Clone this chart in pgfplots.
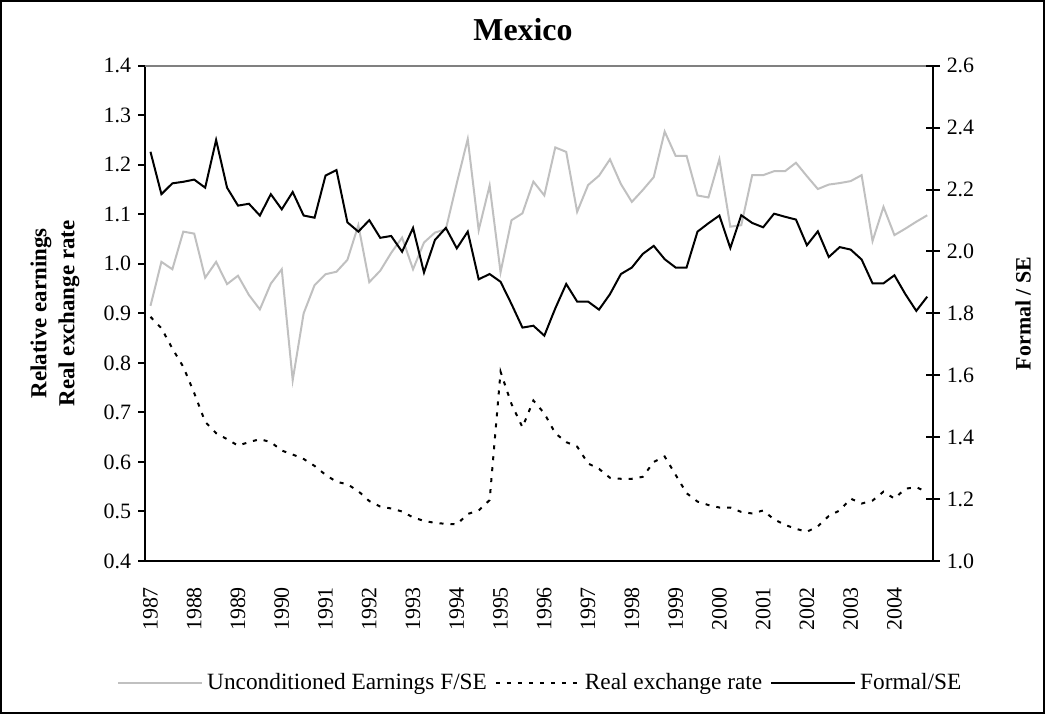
\documentclass[border=0pt]{standalone}
\usepackage{pgfplots}
\pgfplotsset{compat=1.18}
\usepackage{pgfplotstable}
\usepackage{fontspec}
\setmainfont{Liberation Serif}
\definecolor{lgray}{RGB}{192,192,192}
\definecolor{mgray}{RGB}{128,128,128}

\pgfplotstableread{
q ue rer fse
0.5 0.915 0.893 2.322
1.5 1.004 0.870 2.185
2.5 0.989 0.829 2.220
3.5 1.065 0.792 2.225
4.5 1.061 0.739 2.232
5.5 0.972 0.681 2.206
6.5 1.004 0.658 2.360
7.5 0.959 0.646 2.206
8.5 0.976 0.633 2.148
9.5 0.937 0.640 2.154
10.5 0.908 0.646 2.116
11.5 0.960 0.640 2.185
12.5 0.989 0.623 2.136
13.5 0.765 0.615 2.192
14.5 0.900 0.606 2.116
15.5 0.957 0.592 2.109
16.5 0.979 0.574 2.245
17.5 0.984 0.560 2.263
18.5 1.008 0.555 2.094
19.5 1.078 0.541 2.064
20.5 0.963 0.521 2.101
21.5 0.986 0.510 2.044
22.5 1.022 0.506 2.050
23.5 1.053 0.500 1.999
24.5 0.989 0.488 2.076
25.5 1.043 0.481 1.932
26.5 1.063 0.477 2.037
27.5 1.070 0.475 2.076
28.5 1.163 0.474 2.010
29.5 1.252 0.495 2.064
30.5 1.068 0.502 1.910
31.5 1.158 0.523 1.927
32.5 0.983 0.782 1.902
33.5 1.088 0.717 1.830
34.5 1.102 0.670 1.754
35.5 1.166 0.724 1.760
36.5 1.138 0.698 1.728
37.5 1.235 0.658 1.816
38.5 1.226 0.640 1.895
39.5 1.105 0.631 1.838
40.5 1.159 0.597 1.838
41.5 1.178 0.586 1.812
42.5 1.211 0.568 1.862
43.5 1.161 0.566 1.927
44.5 1.125 0.566 1.948
45.5 1.149 0.570 1.992
46.5 1.175 0.600 2.018
47.5 1.267 0.611 1.975
48.5 1.218 0.574 1.948
49.5 1.218 0.537 1.948
50.5 1.138 0.520 2.064
51.5 1.134 0.513 2.091
52.5 1.211 0.508 2.116
53.5 1.075 0.508 2.011
54.5 1.078 0.499 2.117
55.5 1.179 0.496 2.092
56.5 1.179 0.502 2.078
57.5 1.187 0.484 2.122
58.5 1.187 0.473 2.112
59.5 1.204 0.465 2.103
60.5 1.177 0.459 2.020
61.5 1.151 0.470 2.065
62.5 1.160 0.491 1.982
63.5 1.163 0.502 2.014
64.5 1.167 0.526 2.006
65.5 1.179 0.516 1.974
66.5 1.046 0.522 1.897
67.5 1.115 0.540 1.897
68.5 1.058 0.526 1.923
69.5 1.071 0.546 1.862
70.5 1.085 0.549 1.808
71.5 1.098 0.539 1.854
}\datatable

\begin{document}
\begin{tikzpicture}[x=1bp,y=1bp]
\useasboundingbox (0,0) rectangle (522.5,357);
\draw[line width=1bp] (0.5,0.5) rectangle (522,356.5);
\node[font=\bfseries\fontsize{16}{18}\selectfont] at (261.5,342) {Mexico};
\node[rotate=90, align=center, font=\bfseries\fontsize{11.5}{14}\selectfont] at (27.5,200.3) {Relative earnings\\Real exchange rate};
\node[rotate=90, font=\bfseries\fontsize{11}{13}\selectfont] at (511.5,200.3) {Formal / SE};

\begin{axis}[
  at={(72.5bp,76.5bp)}, anchor=south west,
  scale only axis, width=393.85bp, height=247.65bp,
  xmin=0, xmax=72, ymin=0.4, ymax=1.4,
  axis x line*=bottom, axis y line*=left,
  axis line style={line width=1bp, black, -},
  tick align=outside,
  xtick={0.5,4.5,8.5,12.5,16.5,20.5,24.5,28.5,32.5,36.5,40.5,44.5,48.5,52.5,56.5,60.5,64.5,68.5},
  xticklabels={1987,1988,1989,1990,1991,1992,1993,1994,1995,1996,1997,1998,1999,2000,2001,2002,2003,2004},
  xtick style={draw=none},
  minor xtick={0,1,...,72},
  minor x tick style={line width=1bp, black},
  minor tick length=3bp,
  ytick={0.4,0.5,0.6,0.7,0.8,0.9,1.0,1.1,1.2,1.3,1.4},
  ytick style={line width=1bp, black},
  major tick length=3.5bp,
  /pgf/number format/assume math mode=true,
  ticklabel style={font=\fontsize{11}{13}\selectfont},
  yticklabel style={/pgf/number format/.cd, fixed, fixed zerofill, precision=1},
  xticklabel style={rotate=90, anchor=east},
  xticklabel shift=6bp,
]
\addplot[color=lgray, line width=1bp] table[x=q,y=ue]{\datatable};
\addplot[black, line width=1bp, dash pattern=on 2bp off 3.5bp] table[x=q,y=rer]{\datatable};
\draw[color=mgray, line width=1bp] (rel axis cs:0,1) -- (rel axis cs:1,1);
\end{axis}

\begin{axis}[
  at={(72.5bp,76.5bp)}, anchor=south west,
  scale only axis, width=393.85bp, height=247.65bp,
  xmin=0, xmax=72, ymin=1.0, ymax=2.6,
  axis x line=none, axis y line*=right,
  axis line style={line width=1bp, black, -},
  ytick={1.0,1.2,1.4,1.6,1.8,2.0,2.2,2.4,2.6},
  ytick style={line width=1bp, black},
  tick align=center, major tick length=7bp,
  /pgf/number format/assume math mode=true,
  ticklabel style={font=\fontsize{11}{13}\selectfont},
  yticklabel style={/pgf/number format/.cd, fixed, fixed zerofill, precision=1},
  legend columns=3,
  legend image code/.code={\draw[#1] (0bp,0bp) -- (42bp,0bp);},
  legend style={draw=none, fill=none, at={(0.503,-0.246)}, anchor=center,
    font=\fontsize{11.7}{14}\selectfont,
    /tikz/every even column/.append style={column sep=2bp}},
]
\addlegendimage{color=lgray, line width=1bp}
\addlegendentry{Unconditioned Earnings F/SE}
\addlegendimage{black, line width=1bp, dash pattern=on 2bp off 3.5bp}
\addlegendentry{Real exchange rate}
\addplot[black, line width=1bp] table[x=q,y=fse]{\datatable};
\addlegendentry{Formal/SE}
\end{axis}
\end{tikzpicture}
\end{document}
